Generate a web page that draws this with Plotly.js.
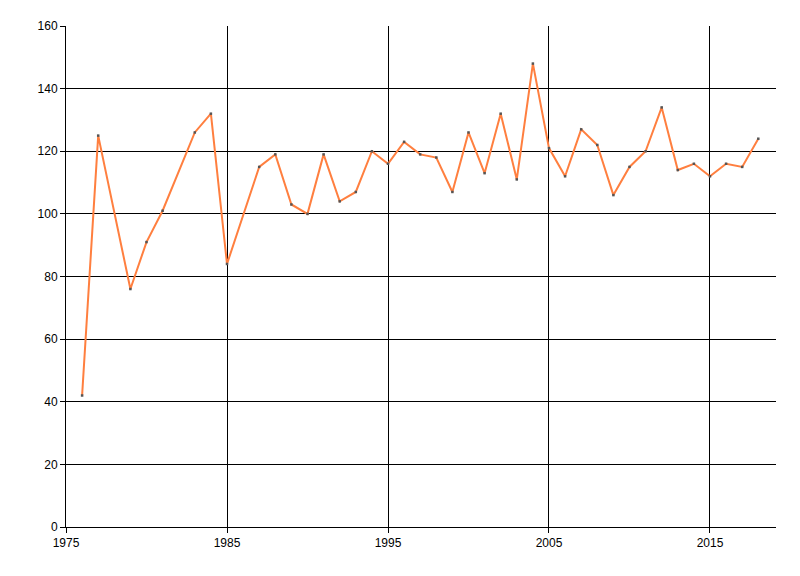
<!DOCTYPE html>
<html>
<head>
<meta charset="utf-8">
<script src="https://cdn.plot.ly/plotly-3.0.1.min.js"></script>
<style>html,body{margin:0;padding:0;background:#fff;}#chart{width:800px;height:576px;}</style>
</head>
<body>
<div id="chart"></div>
<script>
const years = [1976,1977,1979,1980,1981,1983,1984,1985,1987,1988,1989,1990,1991,1992,1993,1994,1995,1996,1997,1998,1999,2000,2001,2002,2003,2004,2005,2006,2007,2008,2009,2010,2011,2012,2013,2014,2015,2016,2017,2018];
const values = [42,125,76,91,101,126,132,84,115,119,103,100,119,104,107,120,116,123,119,118,107,126,113,132,111,148,121,112,127,122,106,115,120,134,114,116,112,116,115,124];
const xTicks = [1975,1985,1995,2005,2015];
const yTicks = [0,20,40,60,80,100,120,140,160];

const trace = {
  x: years, y: values, type: 'scatter', mode: 'lines+markers',
  line: {color: '#FF7F3F', width: 2},
  marker: {color: '#555555', size: 2.5, symbol: 'square'},
  hoverinfo: 'x+y'
};
const axisCommon = {
  showgrid: true, gridcolor: '#000000', gridwidth: 1,
  showline: true, linecolor: '#000000', linewidth: 1,
  ticks: 'outside', ticklen: 5, tickcolor: '#000000', tickwidth: 1,
  tickfont: {family: 'Liberation Sans, Arial, sans-serif', size: 12, color: '#000000'},
  zeroline: false, fixedrange: true
};
const layout = {
  width: 800, height: 576,
  margin: {l: 66, r: 24, t: 26, b: 49},
  paper_bgcolor: '#ffffff', plot_bgcolor: '#ffffff',
  showlegend: false,
  xaxis: Object.assign({}, axisCommon, {range: [1975, 2019.1], tickmode: 'array', tickvals: xTicks, ticktext: xTicks.map(String)}),
  yaxis: Object.assign({}, axisCommon, {range: [0, 160], tickmode: 'array', tickvals: yTicks, ticktext: yTicks.map(String)})
};
Plotly.newPlot('chart', [trace], layout, {displayModeBar: false, staticPlot: true});
</script>
</body>
</html>
